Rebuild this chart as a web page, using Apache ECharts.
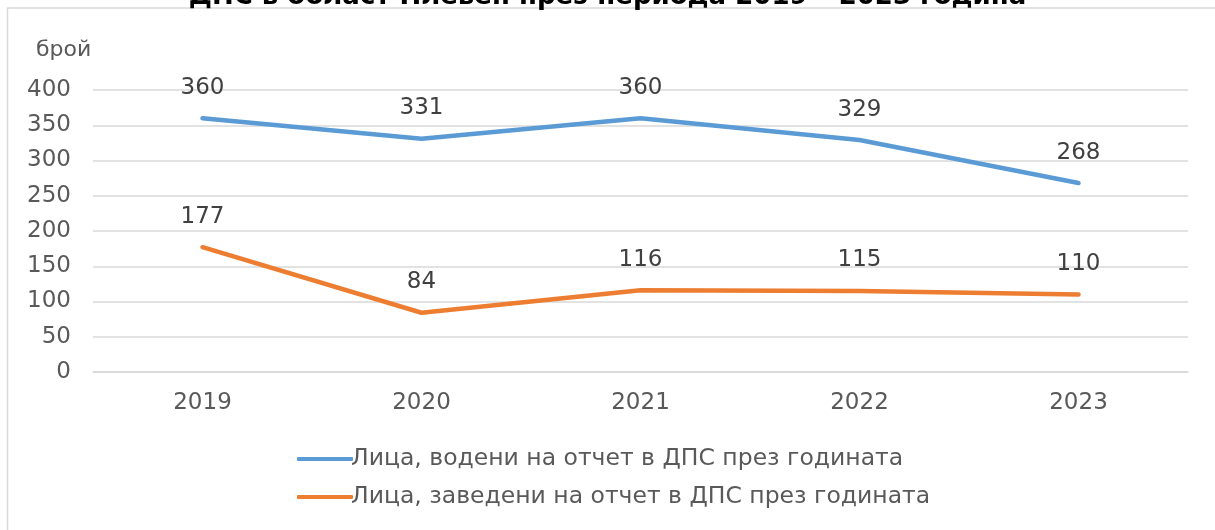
<!DOCTYPE html>
<html>
<head>
<meta charset="utf-8">
<script src="https://cdn.jsdelivr.net/npm/echarts@6/dist/echarts.min.js"></script>
<style>html,body{margin:0;padding:0;background:#fff}#c{width:1215px;height:530px}</style>
</head>
<body>
<div id="c"></div>
<script>
const titleText = 'ДПС в област Плевен през периода 2019 – 2023 година';
const years = ['2019', '2020', '2021', '2022', '2023'];
const seriesNames = ['Лица, водени на отчет в ДПС през годината', 'Лица, заведени на отчет в ДПС през годината'];
const registered = [360, 331, 360, 329, 268];
const newlyRegistered = [177, 84, 116, 115, 110];
const unitLabel = 'брой';

const font = 'DejaVu Sans, Verdana, sans-serif';
const chart = echarts.init(document.getElementById('c'));
chart.setOption({
  animation: false,
  title: {
    text: titleText, left: 'center', top: -21,
    textStyle: { fontFamily: font, fontSize: 26, fontWeight: 'bold', color: '#000' }
  },
  graphic: [
    { type: 'rect', shape: { x: 7.5, y: 8, width: 1300, height: 600 }, style: { fill: 'none', stroke: '#d9d9d9', lineWidth: 1.5 }, z: -1 },
    { type: 'text', left: 36, top: 39, style: { text: unitLabel, font: '22px ' + font, fill: '#595959' } }
  ],
  grid: { left: 93, right: 27, top: 90, bottom: 158 },
  legend: {
    orient: 'vertical', left: 292, top: 442, itemGap: 14, itemWidth: 56, itemHeight: 4,
    icon: 'roundRect',
    textStyle: { fontFamily: font, fontSize: 23.5, color: '#595959', padding: [0, 0, 0, -7] },
    data: seriesNames
  },
  xAxis: {
    type: 'category', data: years, boundaryGap: true,
    axisLine: { lineStyle: { color: '#d9d9d9', width: 1.5 } },
    axisTick: { show: false },
    axisLabel: { fontFamily: font, fontSize: 23, color: '#595959', margin: 20 }
  },
  yAxis: {
    type: 'value', min: 0, max: 400, interval: 50,
    axisLine: { show: false }, axisTick: { show: false },
    splitLine: { lineStyle: { color: '#d9d9d9', width: 1.5 } },
    axisLabel: { fontFamily: font, fontSize: 23, color: '#595959', margin: 22 }
  },
  series: [
    {
      name: seriesNames[0], type: 'line', data: registered, symbol: 'circle', symbolSize: 0,
      lineStyle: { color: '#5b9bd5', width: 4.5, cap: 'round' }, itemStyle: { color: '#5b9bd5' },
      label: { show: true, position: 'top', distance: 19, fontFamily: font, fontSize: 23, color: '#404040' }
    },
    {
      name: seriesNames[1], type: 'line', data: newlyRegistered, symbol: 'circle', symbolSize: 0,
      lineStyle: { color: '#ed7d31', width: 4.5, cap: 'round' }, itemStyle: { color: '#ed7d31' },
      label: { show: true, position: 'top', distance: 19, fontFamily: font, fontSize: 23, color: '#404040' }
    }
  ]
});
</script>
</body>
</html>
